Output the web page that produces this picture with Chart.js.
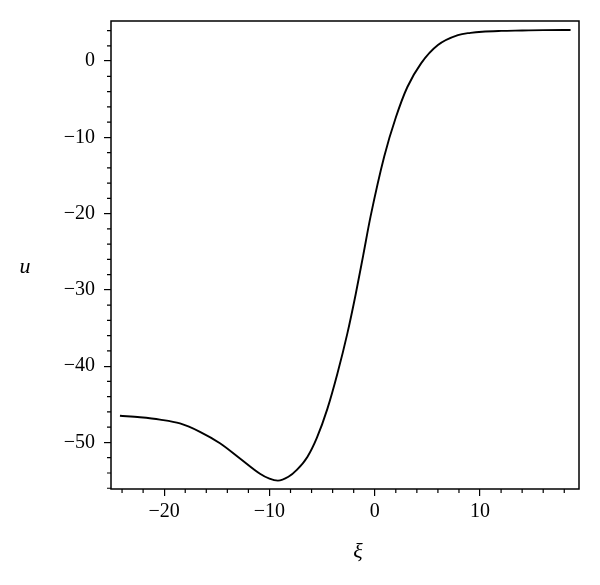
<!DOCTYPE html>
<html>
<head>
<meta charset="utf-8">
<script src="https://cdn.jsdelivr.net/npm/chart.js@4/dist/chart.umd.min.js"></script>
<style>
  html, body { margin: 0; padding: 0; background: #fff; }
  #wrap { width: 600px; height: 585px; }
</style>
</head>
<body>
<div id="wrap"><canvas id="chart"></canvas></div>
<script>
// values
const xi = [-24.2, -22.3, -20.4, -18.5, -16.6, -14.7, -12.8, -10.9, -10, -9.2, -8.2, -7.4, -6.4, -5.5, -4.5, -3.55, -2.6, -1.8, -1.1, -0.4, 0.9, 2.0, 3.1, 4.4, 6.0, 7.9, 9.1, 10.2, 12, 14, 16, 18.6];
const u  = [-46.5, -46.7, -47.0, -47.5, -48.6, -50.1, -52.1, -54.1, -54.75, -55.0, -54.5, -53.6, -51.9, -49.4, -45.6, -41.0, -35.7, -30.5, -25.5, -20.4, -12.5, -7.4, -3.4, -0.3, 2.1, 3.4, 3.7, 3.85, 3.95, 4.0, 4.05, 4.07];

const xTicks = [-20, -10, 0, 10];
const yTicks = [0, -10, -20, -30, -40, -50];
const xRange = [-25.05, 19.4];
const yRange = [-56.1, 5.25];
const minorStep = 2;

const fmt = v => (v < 0 ? '\u2212' + Math.abs(v) : String(v));
const serif = '"Liberation Serif", "DejaVu Serif", serif';

const framePlugin = {
  id: 'frame',
  afterDraw(chart) {
    const { ctx, chartArea: a, scales } = chart;
    ctx.save();
    ctx.strokeStyle = '#000';
    ctx.lineWidth = 1.5;
    ctx.strokeRect(a.left, a.top, a.right - a.left, a.bottom - a.top);

    // minor ticks
    ctx.lineWidth = 1.2;
    ctx.beginPath();
    const xs = scales.x;
    for (let v = Math.ceil(xRange[0] / minorStep) * minorStep; v <= xRange[1]; v += minorStep) {
      if (xTicks.includes(v)) continue;
      const px = xs.getPixelForValue(v);
      ctx.moveTo(px, a.bottom);
      ctx.lineTo(px, a.bottom + 4);
    }
    const ys = scales.y;
    for (let v = Math.ceil(yRange[0] / minorStep) * minorStep; v <= yRange[1]; v += minorStep) {
      if (yTicks.includes(v)) continue;
      const py = ys.getPixelForValue(v);
      ctx.moveTo(a.left, py);
      ctx.lineTo(a.left - 4, py);
    }
    ctx.stroke();

    // axis titles
    ctx.fillStyle = '#000';
    ctx.font = 'italic 22px ' + serif;
    ctx.textAlign = 'center';
    ctx.textBaseline = 'middle';
    ctx.fillText('u', 25, (a.top + a.bottom) / 2 + 12);
    ctx.fillText('\u03be', (a.left + a.right) / 2 + 13, 552);
    ctx.restore();
  }
};

new Chart(document.getElementById('chart'), {
  type: 'line',
  data: {
    datasets: [{
      data: xi.map((x, i) => ({ x: x, y: u[i] })),
      borderColor: '#000',
      borderWidth: 1.9,
      pointRadius: 0,
      fill: false,
      cubicInterpolationMode: 'monotone'
    }]
  },
  options: {
    responsive: true,
    maintainAspectRatio: false,
    animation: false,
    layout: { padding: { top: 21, right: 21, left: 0, bottom: 0 } },
    plugins: { legend: { display: false }, tooltip: { enabled: false } },
    scales: {
      x: {
        type: 'linear',
        min: xRange[0],
        max: xRange[1],
        afterBuildTicks: s => { s.ticks = xTicks.map(v => ({ value: v })); },
        afterFit: s => { s.height = 96; },
        border: { display: false },
        grid: { drawOnChartArea: false, drawTicks: true, tickLength: 7, color: '#000', lineWidth: 1.2 },
        ticks: {
          color: '#000',
          padding: 4,
          maxRotation: 0,
          autoSkip: false,
          font: { family: serif, size: 20 },
          callback: v => fmt(v)
        }
      },
      y: {
        min: yRange[0],
        max: yRange[1],
        afterBuildTicks: s => { s.ticks = yTicks.map(v => ({ value: v })); },
        afterFit: s => { s.width = 111; },
        border: { display: false },
        grid: { drawOnChartArea: false, drawTicks: true, tickLength: 7, color: '#000', lineWidth: 1.2 },
        ticks: {
          color: '#000',
          padding: 9,
          autoSkip: false,
          font: { family: serif, size: 20 },
          callback: v => fmt(v)
        }
      }
    }
  },
  plugins: [framePlugin]
});
</script>
</body>
</html>
